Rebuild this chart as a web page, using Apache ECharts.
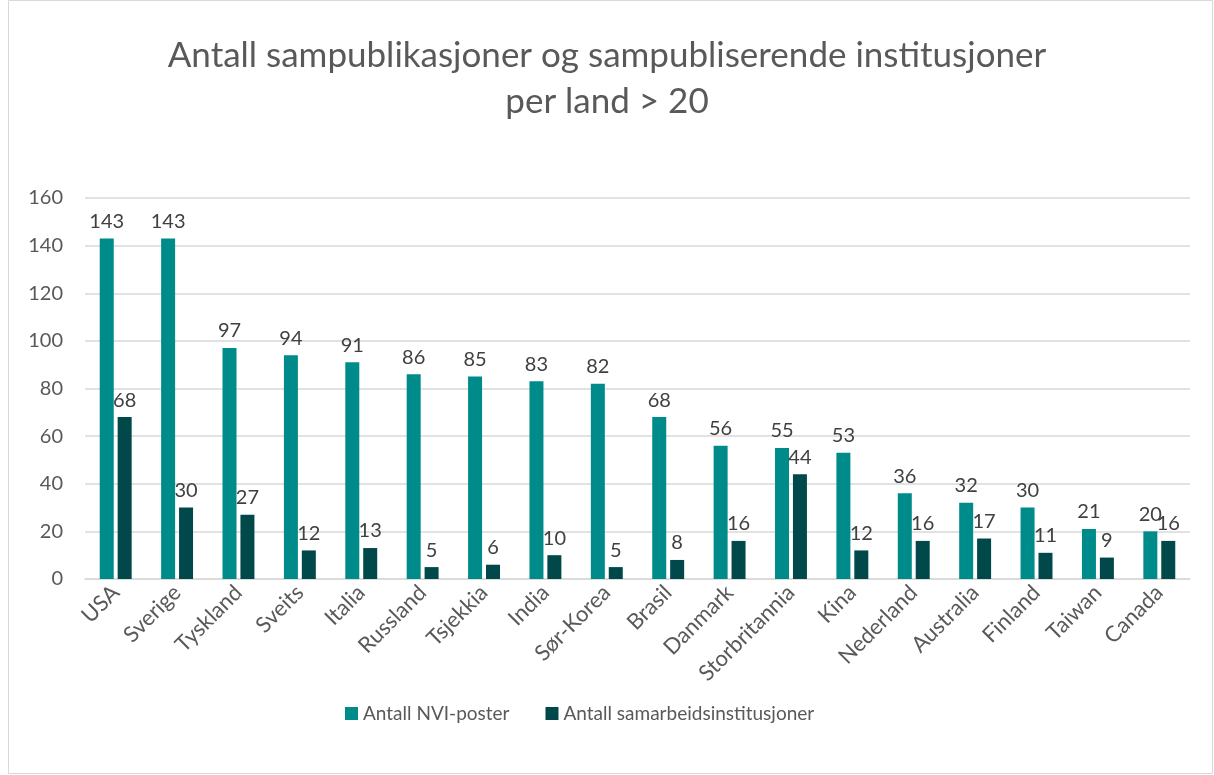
<!DOCTYPE html>
<html>
<head>
<meta charset="utf-8">
<script src="https://cdn.jsdelivr.net/npm/echarts@6/dist/echarts.min.js"></script>
<style>
  html, body { margin: 0; padding: 0; background: #fff; }
  #chart { width: 1214px; height: 775px; }
</style>
</head>
<body>
<div id="chart"></div>
<script>
const titleText = 'Antall sampublikasjoner og sampubliserende institusjoner\nper land > 20';
const countries = ['USA', 'Sverige', 'Tyskland', 'Sveits', 'Italia', 'Russland', 'Tsjekkia', 'India', 'Sør-Korea', 'Brasil', 'Danmark', 'Storbritannia', 'Kina', 'Nederland', 'Australia', 'Finland', 'Taiwan', 'Canada'];
const nviPosts = [143, 143, 97, 94, 91, 86, 85, 83, 82, 68, 56, 55, 53, 36, 32, 30, 21, 20];
const partnerInstitutions = [68, 30, 27, 12, 13, 5, 6, 10, 5, 8, 16, 44, 12, 16, 17, 11, 9, 16];
const seriesNames = ['Antall NVI-poster', 'Antall samarbeidsinstitusjoner'];

const FONT = 'Lato, "Open Sans", sans-serif';
const chart = echarts.init(document.getElementById('chart'));

const labelStyle = {
  show: true,
  position: 'top',
  distance: 7,
  color: '#404040',
  fontSize: 20,
  fontFamily: FONT
};

chart.setOption({
  backgroundColor: '#fff',
  animation: false,
  graphic: [{
    type: 'rect',
    shape: { x: 8.5, y: 0.5, width: 1204, height: 773 },
    style: { fill: 'none', stroke: '#d9d9d9', lineWidth: 1 },
    silent: true
  }],
  title: {
    text: titleText,
    left: 'center',
    top: 28,
    textStyle: {
      fontFamily: FONT,
      fontWeight: 'normal',
      fontSize: 35,
      lineHeight: 46,
      color: '#595959'
    }
  },
  legend: {
    bottom: 47,
    left: 340,
    itemWidth: 13,
    itemHeight: 13,
    itemGap: 36,
    icon: 'rect',
    textStyle: { fontFamily: FONT, fontSize: 19, color: '#595959' },
    data: seriesNames
  },
  grid: { left: 85, right: 24, top: 198, bottom: 196 },
  xAxis: {
    type: 'category',
    data: countries,
    axisLine: { lineStyle: { color: '#d9d9d9', width: 1.5 } },
    axisTick: { show: false },
    axisLabel: {
      rotate: 45,
      interval: 0,
      margin: 10,
      color: '#595959',
      fontSize: 22,
      fontFamily: FONT
    }
  },
  yAxis: {
    type: 'value',
    min: 0,
    max: 160,
    interval: 20,
    axisLine: { show: false },
    axisTick: { show: false },
    splitLine: { lineStyle: { color: '#d9d9d9', width: 1.5 } },
    axisLabel: { color: '#595959', fontSize: 20, fontFamily: FONT, margin: 22 }
  },
  series: [
    {
      name: seriesNames[0],
      type: 'bar',
      data: nviPosts,
      barWidth: 14,
      barGap: '28%',
      itemStyle: { color: '#008B8B' },
      label: labelStyle
    },
    {
      name: seriesNames[1],
      type: 'bar',
      data: partnerInstitutions,
      barWidth: 14,
      itemStyle: { color: '#00484A' },
      label: labelStyle
    }
  ]
});
</script>
</body>
</html>
